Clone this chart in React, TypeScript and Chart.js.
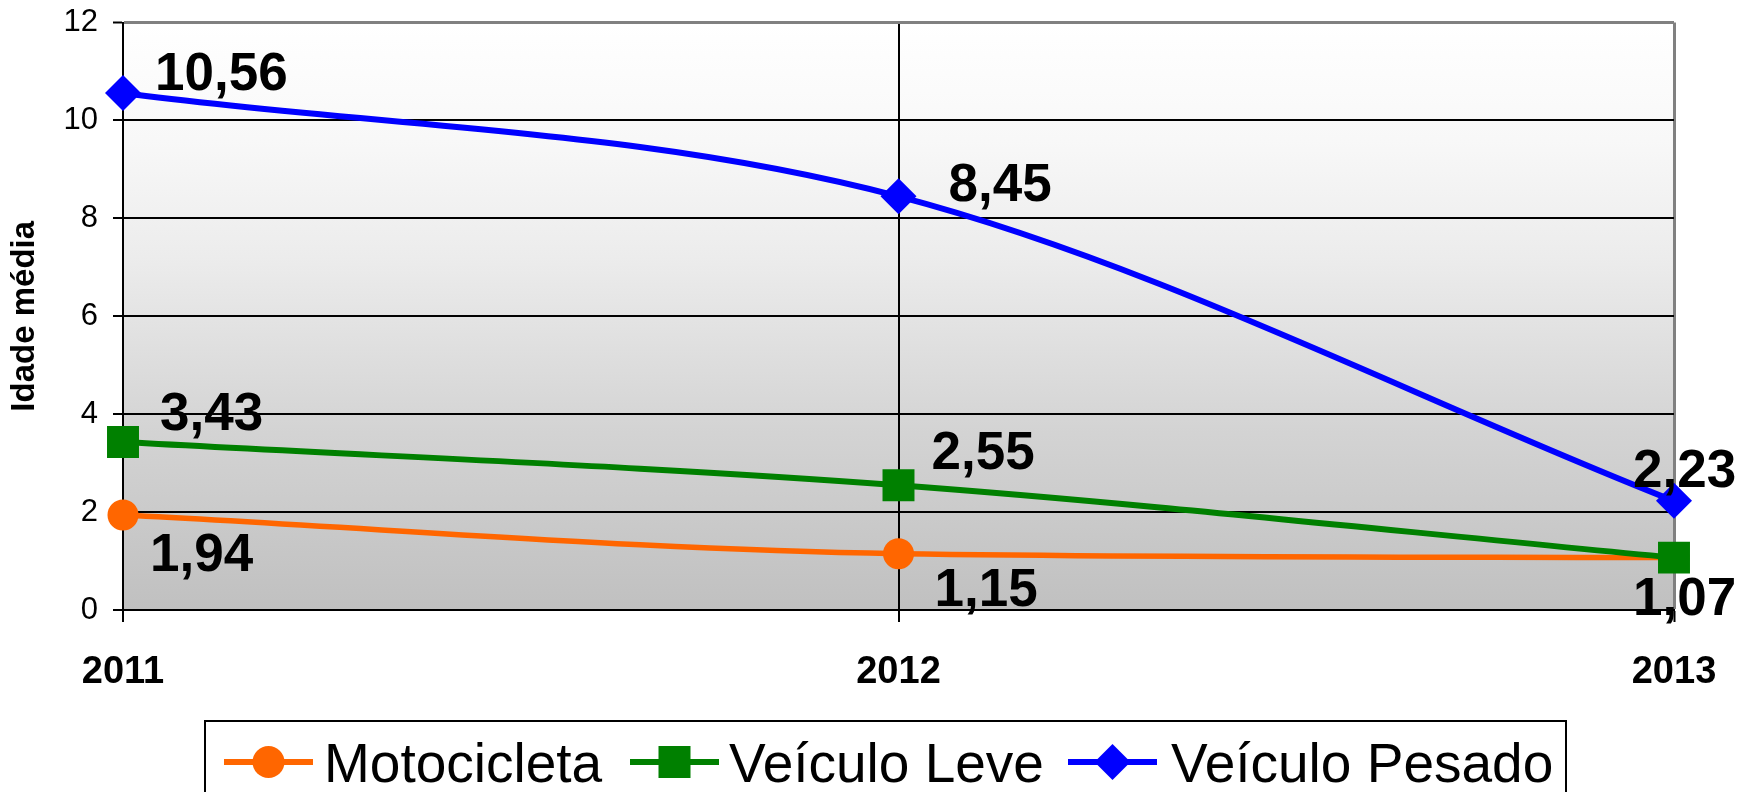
import React, { useEffect, useRef } from "react";
import { Chart, registerables } from "chart.js";

Chart.register(...registerables);

// ---- data ----
const categories = ["2011", "2012", "2013"];
const seriesNames = ["Motocicleta", "Veículo Leve", "Veículo Pesado"];
const motocicleta = [1.94, 1.15, 1.07];
const veiculoLeve = [3.43, 2.55, 1.07];
const veiculoPesado = [10.56, 8.45, 2.23];
const yTickValues = [0, 2, 4, 6, 8, 10, 12];
const yTitle = "Idade média";

const FONT = '"Liberation Sans", Arial, Helvetica, sans-serif';
const COLORS = ["#FF6600", "#008000", "#0000FF"];

const fmt = (v: number) => v.toFixed(2).replace(".", ",");

// label placement: [dx to text left, dy to cap middle] relative to point
const labelOffsets: (number[] | null)[][] = [
  [[27, 37], [36, 33], null],
  [[37, -31], [33, -35], [-41, 38]],
  [[32, -22], [50, -14], [-41, -33]],
];

const gradientBg = {
  id: "gradientBg",
  beforeDraw(chart: any) {
    const { ctx, chartArea } = chart;
    if (!chartArea) return;
    const g = ctx.createLinearGradient(0, chartArea.top, 0, chartArea.bottom);
    g.addColorStop(0, "#FFFFFF");
    g.addColorStop(0.2, "#F8F8F8");
    g.addColorStop(0.4, "#ECECEC");
    g.addColorStop(0.7, "#D3D3D3");
    g.addColorStop(1, "#C0C0C0");
    ctx.save();
    ctx.fillStyle = g;
    ctx.fillRect(chartArea.left, chartArea.top, chartArea.right - chartArea.left, chartArea.bottom - chartArea.top);
    ctx.restore();
  },
};

const valueLabels = {
  id: "valueLabels",
  afterDatasetsDraw(chart: any) {
    const ctx = chart.ctx;
    const size = 53;
    ctx.save();
    ctx.font = `bold ${size}px ${FONT}`;
    ctx.fillStyle = "#000";
    ctx.textAlign = "left";
    ctx.textBaseline = "alphabetic";
    chart.data.datasets.forEach((ds: any, i: number) => {
      const meta = chart.getDatasetMeta(i);
      meta.data.forEach((pt: any, j: number) => {
        const o = labelOffsets[i][j];
        if (!o) return;
        ctx.fillText(fmt(ds.data[j]), pt.x + o[0], pt.y + o[1] + size * 0.358);
      });
    });
    ctx.restore();
  },
};

const boxLegend = {
  id: "boxLegend",
  afterDraw(chart: any) {
    const ctx = chart.ctx;
    ctx.save();
    ctx.strokeStyle = "#000";
    ctx.lineWidth = 2;
    ctx.strokeRect(205, 721, 1361, 100);
    const cy = 762;
    const items = [
      { lineX: 224, textX: 324, style: "circle" },
      { lineX: 630, textX: 729, style: "rect" },
      { lineX: 1068, textX: 1171, style: "rectRot" },
    ];
    items.forEach((it, i) => {
      const c = COLORS[i];
      ctx.strokeStyle = c;
      ctx.lineWidth = 6;
      ctx.beginPath();
      ctx.moveTo(it.lineX, cy);
      ctx.lineTo(it.lineX + 89, cy);
      ctx.stroke();
      ctx.fillStyle = c;
      const mx = it.lineX + 44.5;
      ctx.beginPath();
      if (it.style === "circle") {
        ctx.arc(mx, cy, 16, 0, Math.PI * 2);
      } else if (it.style === "rect") {
        ctx.rect(mx - 16, cy - 16, 32, 32);
      } else {
        ctx.moveTo(mx, cy - 18);
        ctx.lineTo(mx + 18, cy);
        ctx.lineTo(mx, cy + 18);
        ctx.lineTo(mx - 18, cy);
        ctx.closePath();
      }
      ctx.fill();
      ctx.fillStyle = "#000";
      ctx.font = `55px ${FONT}`;
      ctx.textAlign = "left";
      ctx.textBaseline = "alphabetic";
      ctx.fillText(seriesNames[i], it.textX, 782);
    });
    ctx.restore();
  },
};

export default function App() {
  const canvasRef = useRef<HTMLCanvasElement | null>(null);

  useEffect(() => {
    const canvas = canvasRef.current;
    if (!canvas) return;
    const chart = new Chart(canvas, {
      type: "line",
      data: {
        labels: categories,
        datasets: [
          {
            label: seriesNames[0],
            data: motocicleta,
            borderColor: COLORS[0],
            backgroundColor: COLORS[0],
            borderWidth: 5.5,
            pointStyle: "circle",
            pointRadius: 15.5,
            pointBorderWidth: 0,
            cubicInterpolationMode: "monotone",
            clip: false,
            order: 3,
          },
          {
            label: seriesNames[1],
            data: veiculoLeve,
            borderColor: COLORS[1],
            backgroundColor: COLORS[1],
            borderWidth: 6,
            pointStyle: "rect",
            pointRadius: 22.6,
            pointBorderWidth: 0,
            cubicInterpolationMode: "monotone",
            clip: false,
            order: 2,
          },
          {
            label: seriesNames[2],
            data: veiculoPesado,
            borderColor: COLORS[2],
            backgroundColor: COLORS[2],
            borderWidth: 6,
            pointStyle: "rectRot",
            pointRadius: 18,
            pointBorderWidth: 0,
            cubicInterpolationMode: "monotone",
            clip: false,
            order: 1,
          },
        ],
      },
      options: {
        responsive: false,
        animation: false,
        devicePixelRatio: 1,
        layout: { padding: { left: 0, top: 22, right: 80, bottom: 102 } },
        plugins: {
          legend: { display: false },
          tooltip: { enabled: false },
        },
        scales: {
          x: {
            type: "category",
            offset: false,
            afterFit: (s: any) => {
              s.height = 80;
            },
            grid: {
              display: true,
              color: (c: any) => (c.index === 2 ? "#808080" : "#000000"),
              lineWidth: (c: any) => (c.index === 2 ? 3 : 2),
              tickColor: "#000000",
              tickWidth: 2,
              tickLength: 12,
            },
            border: { display: true, color: "#000000", width: 2 },
            ticks: {
              color: "#000000",
              font: { family: FONT, size: 38, weight: "bold" },
              padding: 28,
              maxRotation: 0,
            },
          },
          y: {
            min: 0,
            max: 12,
            afterFit: (s: any) => {
              s.width = 123;
              s.paddingTop = 0;
              s.paddingBottom = 0;
            },
            afterBuildTicks: (s: any) => {
              s.ticks = yTickValues.map((v) => ({ value: v }));
            },
            grid: {
              color: (c: any) => (c.tick && c.tick.value === 12 ? "#808080" : "#000000"),
              lineWidth: (c: any) => (c.tick && c.tick.value === 12 ? 3 : 2),
              tickColor: "#000000",
              tickWidth: 2,
              tickLength: 10,
            },
            border: { display: true, color: "#000000", width: 2 },
            ticks: {
              color: "#000000",
              font: { family: FONT, size: 31 },
              padding: 15,
            },
            title: {
              display: true,
              text: yTitle,
              color: "#000000",
              font: { family: FONT, size: 33, weight: "bold" },
              padding: { top: 5, bottom: 0 },
            },
          },
        },
      },
      plugins: [gradientBg, valueLabels, boxLegend],
    } as any);
    return () => chart.destroy();
  }, []);

  return (
    <div style={{ position: "fixed", left: 0, top: 0, width: 1754, height: 792, background: "#fff" }}>
      <canvas ref={canvasRef} width={1754} height={792} style={{ display: "block" }} />
    </div>
  );
}
